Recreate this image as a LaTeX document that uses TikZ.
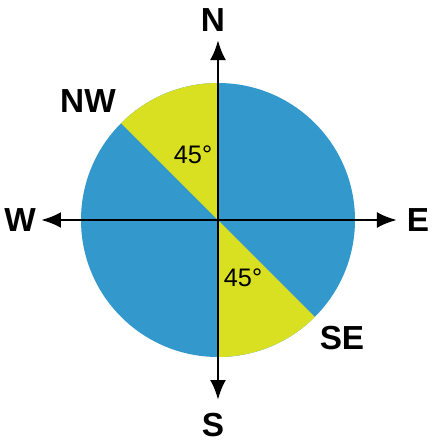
\documentclass[tikz,border=0pt]{standalone}
\usepackage{fontspec}
\setmainfont{Liberation Sans}
\usetikzlibrary{arrows.meta}
\definecolor{dialblue}{HTML}{3399CC}
\definecolor{dialyellow}{HTML}{D9E021}
\begin{document}
\begin{tikzpicture}[x=0.75pt,y=0.75pt,>={Latex[length=15pt,width=12pt]},
	axis/.style={line width=2.2pt},
	point/.style={font=\bfseries\fontsize{25}{30}\selectfont},
	angle/.style={font=\fontsize{19}{22}\selectfont}]
		\useasboundingbox (-218,-224) rectangle (215,220);
		%Disco
		\fill [dialblue] (0,0) circle (137);
		\fill [dialyellow] (0,0) -- (90:137) arc (90:135:137) -- cycle;
		\fill [dialyellow] (0,0) -- (270:137) arc (270:315:137) -- cycle;
		%Assi
		\coordinate (n) at (0,180);
		\coordinate (s) at (0,-180);
		\coordinate (w) at (-177,0);
		\coordinate (e) at (179,0);
		\draw [axis,<->] (s) -- (n);
		\draw [axis,<->] (w) -- (e);
		%Punti
		\node [point] (N) at (-5,200) {N};
		\node [point] (S) at (-5,-205) {S};
		\node [point] (W) at (-198,0) {W};
		\node [point] (E) at (200,0) {E};
		\node [point] (NW) at (-130,119) {NW};
		\node [point] (SE) at (124,-118) {SE};
		%Angoli
		\node [angle] (a1) at (-25,65) {45°};
		\node [angle] (a2) at (25,-58) {45°};
	\end{tikzpicture}
\end{document}
